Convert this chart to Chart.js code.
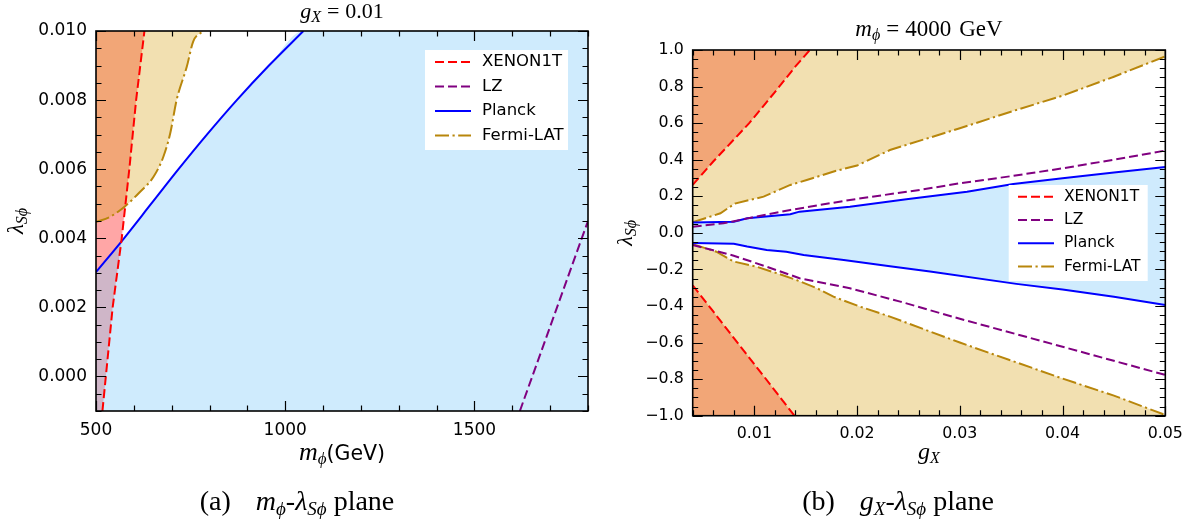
<!DOCTYPE html>
<html>
<head>
<meta charset="utf-8">
<script src="https://cdn.jsdelivr.net/npm/chart.js@4.4.0/dist/chart.umd.min.js"></script>
<style>
  html, body { margin: 0; padding: 0; background: #fff; }
  #wrap { position: relative; width: 1195px; height: 525px; overflow: hidden; }
  canvas { position: absolute; top: 0; }
  #cA { left: 0; }
  #cB { left: 600px; }
</style>
</head>
<body>
<div id="wrap">
  <canvas id="cA" width="600" height="525"></canvas>
  <canvas id="cB" width="595" height="525"></canvas>
</div>
<script>
// (a) m_phi vs lambda_Sphi at g_X = 0.01
const mXenonX = [517, 526, 544, 568, 588, 606, 628];
const mXenonY = [-0.001, 0.000, 0.002, 0.004, 0.006, 0.008, 0.010];
const mLzX = [1620, 1800];
const mLzY = [-0.001, 0.0045];
const mPlanckX = [500, 574, 646, 718, 793, 872, 957, 1048];
const mPlanckY = [0.00302, 0.004, 0.005, 0.006, 0.007, 0.008, 0.009, 0.010];
const mFermiX = [500, 537, 577, 616, 652, 678, 696, 713, 740, 757, 784];
const mFermiY = [0.00447, 0.00462, 0.00493, 0.00534, 0.00578, 0.00636, 0.00703, 0.0080, 0.00897, 0.0097, 0.010];
const mTicksX = [500, 1000, 1500];
const mTicksY = [0.000, 0.002, 0.004, 0.006, 0.008, 0.010];

// (b) g_X vs lambda_Sphi at m_phi = 4000 GeV
const gXenonUpX = [0.004, 0.006, 0.008, 0.0095, 0.012, 0.014, 0.0154];
const gXenonUpY = [0.262, 0.39, 0.51, 0.60, 0.77, 0.91, 1.0];
const gXenonLoX = [0.004, 0.006, 0.0086, 0.011, 0.0139];
const gXenonLoY = [-0.287, -0.43, -0.618, -0.79, -1.0];
const gLzUpX = [0.004, 0.007, 0.0102, 0.0135, 0.0193, 0.0261, 0.03, 0.035, 0.04, 0.045, 0.05];
const gLzUpY = [0.034, 0.052, 0.089, 0.125, 0.18, 0.235, 0.271, 0.31, 0.353, 0.40, 0.45];
const gLzLoX = [0.004, 0.006, 0.008, 0.0112, 0.0144, 0.0193, 0.0242, 0.03, 0.04, 0.05];
const gLzLoY = [-0.066, -0.095, -0.125, -0.185, -0.248, -0.303, -0.376, -0.47, -0.623, -0.777];
const gPlanckUpX = [0.004, 0.008, 0.0093, 0.0135, 0.0144, 0.0193, 0.0248, 0.0307, 0.0352, 0.04, 0.045, 0.05];
const gPlanckUpY = [0.056, 0.061, 0.080, 0.102, 0.116, 0.143, 0.184, 0.225, 0.267, 0.298, 0.33, 0.36];
const gPlanckLoX = [0.004, 0.008, 0.0093, 0.0112, 0.0131, 0.0148, 0.0187, 0.0232, 0.0271, 0.0355, 0.04, 0.045, 0.05];
const gPlanckLoY = [-0.055, -0.060, -0.075, -0.094, -0.103, -0.121, -0.148, -0.183, -0.212, -0.279, -0.31, -0.35, -0.394];
const gFermiUpX = [0.004, 0.0067, 0.0081, 0.0109, 0.0135, 0.0151, 0.018, 0.02, 0.0232, 0.03, 0.0355, 0.04, 0.045, 0.05];
const gFermiUpY = [0.058, 0.107, 0.160, 0.198, 0.262, 0.289, 0.340, 0.368, 0.453, 0.572, 0.672, 0.75, 0.854, 0.965];
const gFermiLoX = [0.004, 0.0063, 0.008, 0.0102, 0.0122, 0.0141, 0.0161, 0.0177, 0.0203, 0.0232, 0.03, 0.04, 0.045, 0.05];
const gFermiLoY = [-0.062, -0.103, -0.157, -0.185, -0.221, -0.258, -0.303, -0.349, -0.404, -0.458, -0.60, -0.797, -0.89, -0.996];
const gTicksX = [0.01, 0.02, 0.03, 0.04, 0.05];
const gTicksY = [-1.0, -0.8, -0.6, -0.4, -0.2, 0.0, 0.2, 0.4, 0.6, 0.8, 1.0];

const seriesNames = ['XENON1T', 'LZ', 'Planck', 'Fermi-LAT'];

const SERIF = '"Liberation Serif", "DejaVu Serif", serif';
const SANS = '"DejaVu Sans", sans-serif';

const RED = '#ff0000', PURPLE = '#800080', BLUE = '#0000ff', GOLD = '#b8860b';
const DASH = [9, 4];
const DASHDOT = [14, 3.5, 2.2, 3.5];
const styles = [
    { color: RED, dash: DASH },
    { color: PURPLE, dash: DASH },
    { color: BLUE, dash: [] },
    { color: GOLD, dash: DASHDOT }
];

// translucent fills, stacked so the overlaps mix like the original plot
const PINK_FILL = 'rgba(255, 0, 0, 0.35)';
const TAN_FILL = 'rgba(218, 165, 32, 0.35)';
const BLUE_FILL = 'rgba(135, 206, 250, 0.4)';

const pts = (xs, ys) => xs.map((x, i) => ({ x: x, y: ys[i] }));

function curve(points, st, smooth) {
    return { data: points, borderColor: st.color, borderWidth: 2, borderDash: st.dash,
             pointRadius: 0, fill: false, tension: 0,
             cubicInterpolationMode: smooth ? 'monotone' : 'default' };
}
function area(points, color, fill, smooth) {
    return { data: points, borderWidth: 0, borderColor: 'rgba(0,0,0,0)', backgroundColor: color,
             pointRadius: 0, fill: fill, tension: 0,
             cubicInterpolationMode: smooth ? 'monotone' : 'default' };
}

// text made of runs (italic letters, subscripts, upright parts)
function runsWidth(ctx, runs) {
    let w = 0;
    runs.forEach(r => { ctx.font = r.f; w += (r.gap || 0) + ctx.measureText(r.t).width; });
    return w;
}
function drawRuns(ctx, runs, cx, y) {
    let x = cx - runsWidth(ctx, runs) / 2;
    ctx.textAlign = 'left';
    ctx.textBaseline = 'alphabetic';
    ctx.fillStyle = '#000';
    runs.forEach(r => {
        x += r.gap || 0;
        ctx.font = r.f;
        ctx.fillText(r.t, x, y + (r.dy || 0));
        x += ctx.measureText(r.t).width;
    });
}

function stepValues(min, max, step) {
    const out = [];
    const n = Math.round((max - min) / step);
    for (let k = 0; k <= n; k++) out.push(min + k * step);
    return out;
}

// frame, inward ticks on all sides, legend box and the math labels
function decor(cfg) {
    return {
        id: 'decor',
        afterDatasetsDraw(chart) {
            const ctx = chart.ctx, a = chart.chartArea;
            const xs = chart.scales.x, ys = chart.scales.y;

            // legend
            const lg = cfg.legend;
            const bx = a.right - lg.right - lg.w, by = a.top + lg.top;
            ctx.save();
            ctx.fillStyle = '#fff';
            ctx.fillRect(bx, by, lg.w, lg.h);
            ctx.font = lg.size + 'px ' + SANS;
            ctx.textBaseline = 'middle';
            ctx.textAlign = 'left';
            seriesNames.forEach((name, i) => {
                const yy = by + lg.row0 + i * lg.rowH;
                ctx.strokeStyle = styles[i].color;
                ctx.lineWidth = 2;
                ctx.setLineDash(styles[i].dash);
                ctx.beginPath();
                ctx.moveTo(bx + lg.line0, yy);
                ctx.lineTo(bx + lg.line0 + 36, yy);
                ctx.stroke();
                ctx.setLineDash([]);
                ctx.fillStyle = '#000';
                ctx.fillText(name, bx + lg.text0, yy);
            });
            ctx.restore();

            // ticks
            ctx.save();
            ctx.strokeStyle = '#000';
            ctx.lineWidth = 1.2;
            ctx.beginPath();
            const xMinor = stepValues(xs.min, xs.max, cfg.xMinor);
            const yMinor = stepValues(ys.min, ys.max, cfg.yMinor);
            const tickX = (v, len) => {
                const p = Math.round(xs.getPixelForValue(v)) + 0.5;
                ctx.moveTo(p, a.bottom); ctx.lineTo(p, a.bottom - len);
                ctx.moveTo(p, a.top); ctx.lineTo(p, a.top + len);
            };
            const tickY = (v, len) => {
                const p = Math.round(ys.getPixelForValue(v)) + 0.5;
                ctx.moveTo(a.left, p); ctx.lineTo(a.left + len, p);
                ctx.moveTo(a.right, p); ctx.lineTo(a.right - len, p);
            };
            xMinor.forEach(v => tickX(v, 5.5));
            yMinor.forEach(v => tickY(v, 5.5));
            cfg.xMajor.forEach(v => tickX(v, 10));
            cfg.yMajor.forEach(v => tickY(v, 10));
            ctx.stroke();
            ctx.lineWidth = 1.6;
            ctx.strokeRect(a.left, a.top, a.right - a.left, a.bottom - a.top);
            ctx.restore();
        },
        afterDraw(chart) {
            const ctx = chart.ctx, a = chart.chartArea;
            const mid = (a.left + a.right) / 2;
            ctx.save();
            drawRuns(ctx, cfg.title, mid, cfg.titleY);
            drawRuns(ctx, cfg.xLabel, mid, cfg.xLabelY);
            drawRuns(ctx, cfg.caption, cfg.captionX, 510);
            ctx.translate(cfg.yLabelX, (a.top + a.bottom) / 2);
            ctx.rotate(-Math.PI / 2);
            drawRuns(ctx, cfg.yLabel, 0, 0);
            ctx.restore();
        }
    };
}

function axes(xMin, xMax, yMin, yMax, xTicks, yTicks, xFmt, yFmt, yWidth, xHeight, size) {
    const tickFont = { family: 'DejaVu Sans', size: size };
    return {
        x: {
            type: 'linear', min: xMin, max: xMax,
            grid: { display: false, drawTicks: false }, border: { display: false },
            afterBuildTicks: s => { s.ticks = xTicks.map(v => ({ value: v })); },
            afterFit: s => { s.height = xHeight; },
            ticks: { font: tickFont, color: '#000', padding: 9, maxRotation: 0, autoSkip: false, callback: xFmt }
        },
        y: {
            type: 'linear', min: yMin, max: yMax,
            grid: { display: false, drawTicks: false }, border: { display: false },
            afterBuildTicks: s => { s.ticks = yTicks.map(v => ({ value: v })); },
            afterFit: s => { s.width = yWidth; },
            ticks: { font: tickFont, color: '#000', padding: 9, autoSkip: false, callback: yFmt }
        }
    };
}

const baseOptions = (padding, scales) => ({
    responsive: false,
    animation: false,
    devicePixelRatio: 1,
    events: [],
    layout: { padding: padding },
    scales: scales,
    plugins: {
        legend: { display: false },
        tooltip: { enabled: false },
        filler: { drawTime: 'beforeDatasetsDraw' }
    }
});

const phi = '\u03d5';
const italic = (px) => 'italic ' + px + 'px ' + SERIF;
const roman = (px) => px + 'px ' + SERIF;

// ---------- chart (a) ----------
new Chart(document.getElementById('cA'), {
    type: 'line',
    data: {
        datasets: [
            curve(pts(mXenonX, mXenonY), styles[0]),
            curve(pts(mLzX, mLzY), styles[1]),
            curve(pts(mPlanckX, mPlanckY), styles[2], true),
            curve(pts(mFermiX, mFermiY), styles[3], true),
            // fills: the last one is painted first
            area(pts(mPlanckX, mPlanckY).concat([{ x: 1800, y: 0.010 }]), BLUE_FILL, 'start', true),
            area(pts(mFermiX, mFermiY), TAN_FILL, 'end', true),
            area([{ x: 500, y: -0.001 }].concat(pts(mXenonX, mXenonY)), PINK_FILL, 'end')
        ]
    },
    options: baseOptions({ top: 31, right: 12, bottom: 0, left: 0 },
        axes(500, 1800, -0.001, 0.010, mTicksX, mTicksY,
             v => String(v), v => v.toFixed(3), 96, 114, 17)),
    plugins: [decor({
        xMinor: 100, yMinor: 0.0005, xMajor: mTicksX, yMajor: mTicksY,
        legend: { right: 20, top: 19, w: 143, h: 100, size: 16.5, row0: 12, rowH: 24.5, line0: 10, text0: 57 },
        title: [{ t: 'g', f: italic(22) }, { t: 'X', f: italic(16), dy: 4 },
                { t: '=', f: roman(22), gap: 6 }, { t: '0.01', f: roman(22), gap: 6 }],
        titleY: 18,
        xLabel: [{ t: 'm', f: italic(26) }, { t: phi, f: italic(17), dy: 4 }, { t: '(GeV)', f: '20.5px ' + SANS }],
        xLabelY: 460,
        yLabel: [{ t: '\u03bb', f: italic(23) }, { t: 'S' + phi, f: italic(16), dy: 4 }],
        yLabelX: 23,
        caption: [{ t: '(a)', f: roman(28) }, { t: 'm', f: italic(28), gap: 25 }, { t: phi, f: italic(19), dy: 5 },
                  { t: '-', f: roman(28) }, { t: '\u03bb', f: italic(28) }, { t: 'S' + phi, f: italic(19), dy: 5 },
                  { t: ' plane', f: roman(28) }],
        captionX: 297
    })]
});

// ---------- chart (b) ----------
const gFmtY = v => (v < -1e-9 ? '\u2212' : '') + Math.abs(v).toFixed(1);
new Chart(document.getElementById('cB'), {
    type: 'line',
    data: {
        datasets: [
            curve(pts(gXenonUpX, gXenonUpY), styles[0]),
            curve(pts(gXenonLoX, gXenonLoY), styles[0]),
            curve(pts(gLzUpX, gLzUpY), styles[1]),
            curve(pts(gLzLoX, gLzLoY), styles[1]),
            curve(pts(gPlanckUpX, gPlanckUpY), styles[2]),
            curve(pts(gPlanckLoX, gPlanckLoY), styles[2]),
            curve(pts(gFermiUpX, gFermiUpY), styles[3]),
            curve(pts(gFermiLoX, gFermiLoY), styles[3]),
            // fills: the last one is painted first
            area(pts(gPlanckUpX, gPlanckUpY), BLUE_FILL, 5),
            area(pts(gFermiUpX, gFermiUpY), TAN_FILL, 'end'),
            area(pts(gFermiLoX, gFermiLoY), TAN_FILL, 'start'),
            area(pts(gXenonUpX, gXenonUpY), PINK_FILL, 'end'),
            area(pts(gXenonLoX, gXenonLoY), PINK_FILL, 'start')
        ]
    },
    options: baseOptions({ top: 50, right: 29.7, bottom: 0, left: 0 },
        axes(0.004, 0.05, -1, 1, gTicksX, gTicksY,
             v => v.toFixed(2), gFmtY, 92.7, 109.3, 15.8)),
    plugins: [decor({
        xMinor: 0.002, yMinor: 0.05, xMajor: gTicksX, yMajor: gTicksY,
        legend: { right: 17.6, top: 135, w: 139, h: 96, size: 15.5, row0: 11.7, rowH: 23.3, line0: 9.3, text0: 55.3 },
        title: [{ t: 'm', f: italic(23) }, { t: phi, f: italic(16), dy: 4 },
                { t: '=', f: roman(23), gap: 6 }, { t: '4000', f: roman(23), gap: 6 }, { t: 'GeV', f: roman(23), gap: 8 }],
        titleY: 36,
        xLabel: [{ t: 'g', f: italic(24) }, { t: 'X', f: italic(16), dy: 4 }],
        xLabelY: 459,
        yLabel: [{ t: '\u03bb', f: italic(22) }, { t: 'S' + phi, f: italic(16), dy: 4 }],
        yLabelX: 32,
        caption: [{ t: '(b)', f: roman(28) }, { t: 'g', f: italic(28), gap: 25 }, { t: 'X', f: italic(19), dy: 5 },
                  { t: '-', f: roman(28) }, { t: '\u03bb', f: italic(28) }, { t: 'S' + phi, f: italic(19), dy: 5 },
                  { t: ' plane', f: roman(28) }],
        captionX: 298
    })]
});
</script>
</body>
</html>
